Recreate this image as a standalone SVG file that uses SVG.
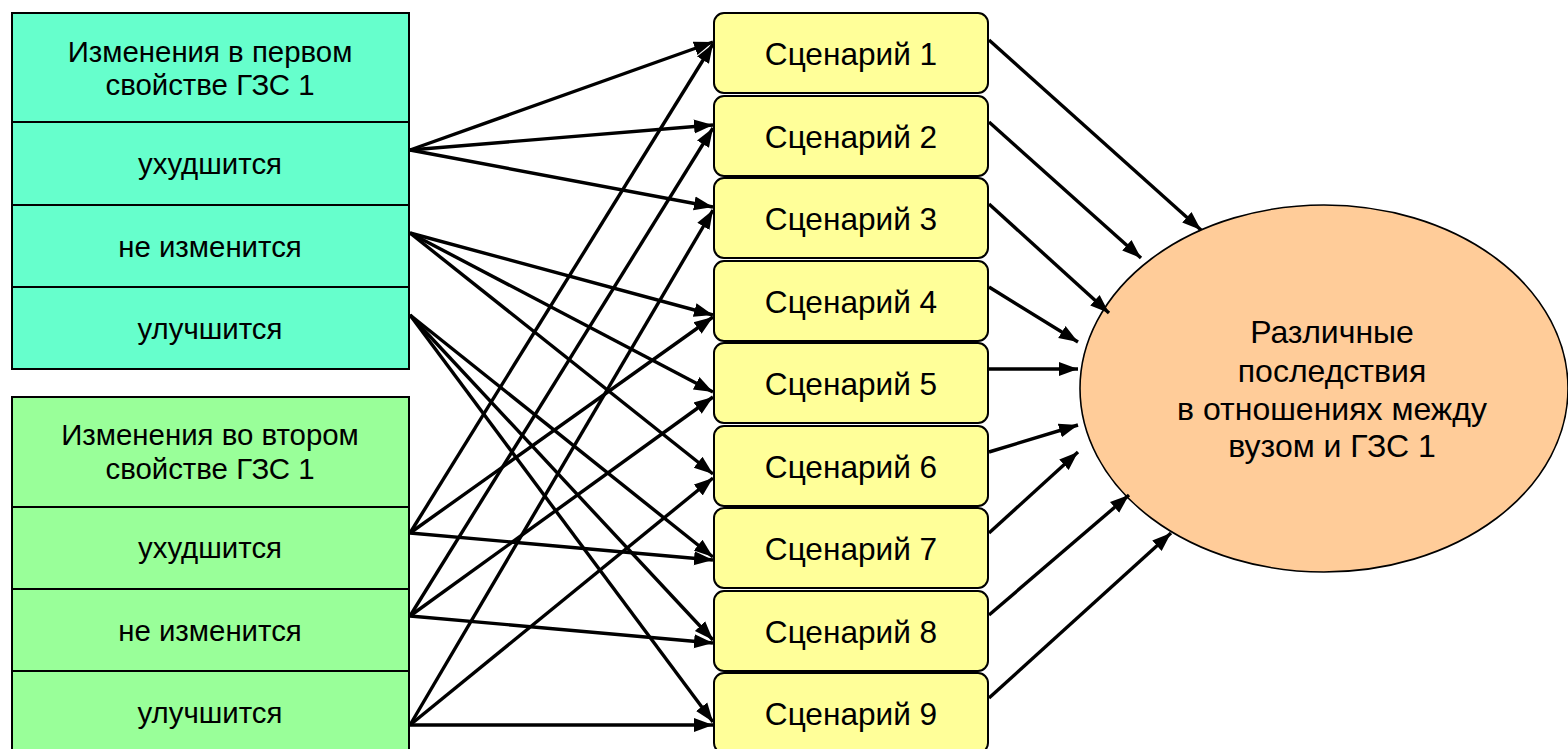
<svg xmlns="http://www.w3.org/2000/svg" width="1568" height="749" viewBox="0 0 1568 749">
<style>
text{font-family:"Liberation Sans",Arial,sans-serif;font-size:31.6px;fill:#000;text-anchor:middle}
.lt{font-size:29.4px}
.et{font-size:32px}
.t1{fill:#66FFCC;stroke:#000;stroke-width:2}
.t2{fill:#99FF99;stroke:#000;stroke-width:2}
.sc{fill:#FFFF99;stroke:#000;stroke-width:2}
.el{fill:#FFCC99;stroke:#000;stroke-width:1.6}
.c line{stroke:#000;stroke-width:3.4;marker-end:url(#ah)}
</style>
<defs>
<marker id="ah" markerUnits="userSpaceOnUse" markerWidth="20" markerHeight="16" refX="19" refY="8" orient="auto">
<path d="M0,1 L19,8 L0,15 z" fill="#000"/>
</marker>
</defs>
<rect width="1568" height="749" fill="#fff"/>

<g id="prop1" class="lt">
<rect class="t1" x="12" y="13" width="397" height="109"/>
<rect class="t1" x="12" y="122" width="397" height="83"/>
<rect class="t1" x="12" y="205" width="397" height="82"/>
<rect class="t1" x="12" y="287" width="397" height="82"/>
<text class="lt" x="210" y="62">Изменения в первом</text>
<text class="lt" x="210" y="95">свойстве ГЗС 1</text>
<text class="lt" x="210" y="174">ухудшится</text>
<text class="lt" x="210" y="257">не изменится</text>
<text class="lt" x="210" y="339">улучшится</text>
</g>

<g id="prop2">
<rect class="t2" x="12" y="397" width="397" height="110"/>
<rect class="t2" x="12" y="507" width="397" height="82"/>
<rect class="t2" x="12" y="589" width="397" height="82"/>
<rect class="t2" x="12" y="671" width="397" height="90"/>
<text class="lt" x="210" y="445">Изменения во втором</text>
<text class="lt" x="210" y="479">свойстве ГЗС 1</text>
<text class="lt" x="210" y="558">ухудшится</text>
<text class="lt" x="210" y="641">не изменится</text>
<text class="lt" x="210" y="723">улучшится</text>
</g>

<g id="s1"><rect class="sc" x="714" y="13" width="274" height="80" rx="10"/><text x="851" y="65">Сценарий 1</text></g>
<g id="s2"><rect class="sc" x="714" y="96" width="274" height="80" rx="10"/><text x="851" y="148">Сценарий 2</text></g>
<g id="s3"><rect class="sc" x="714" y="178" width="274" height="80" rx="10"/><text x="851" y="230">Сценарий 3</text></g>
<g id="s4"><rect class="sc" x="714" y="261" width="274" height="80" rx="10"/><text x="851" y="313">Сценарий 4</text></g>
<g id="s5"><rect class="sc" x="714" y="343" width="274" height="80" rx="10"/><text x="851" y="395">Сценарий 5</text></g>
<g id="s6"><rect class="sc" x="714" y="426" width="274" height="80" rx="10"/><text x="851" y="478">Сценарий 6</text></g>
<g id="s7"><rect class="sc" x="714" y="508" width="274" height="80" rx="10"/><text x="851" y="560">Сценарий 7</text></g>
<g id="s8"><rect class="sc" x="714" y="591" width="274" height="80" rx="10"/><text x="851" y="643">Сценарий 8</text></g>
<g id="s9"><rect class="sc" x="714" y="673" width="274" height="80" rx="10"/><text x="851" y="725">Сценарий 9</text></g>

<g id="result">
<ellipse class="el" cx="1324" cy="388.5" rx="244" ry="183.5"/>
<text class="et" x="1332" y="343">Различные</text>
<text class="et" x="1332" y="382">последствия</text>
<text class="et" x="1332" y="420">в отношениях между</text>
<text class="et" x="1332" y="457">вузом и ГЗС 1</text>
</g>

<g id="connectors" class="c">
<line x1="410" y1="150" x2="713" y2="42"/>
<line x1="410" y1="150" x2="713" y2="125"/>
<line x1="410" y1="150" x2="713" y2="207"/>
<line x1="410" y1="233" x2="713" y2="315"/>
<line x1="410" y1="233" x2="713" y2="392"/>
<line x1="410" y1="233" x2="713" y2="474"/>
<line x1="410" y1="315" x2="713" y2="557"/>
<line x1="410" y1="315" x2="713" y2="640"/>
<line x1="410" y1="315" x2="713" y2="722"/>
<line x1="410" y1="533" x2="713" y2="44"/>
<line x1="410" y1="533" x2="713" y2="317"/>
<line x1="410" y1="533" x2="713" y2="560"/>
<line x1="410" y1="616" x2="713" y2="128"/>
<line x1="410" y1="616" x2="713" y2="397"/>
<line x1="410" y1="616" x2="713" y2="643"/>
<line x1="410" y1="725" x2="713" y2="210"/>
<line x1="410" y1="725" x2="713" y2="478"/>
<line x1="410" y1="725" x2="713" y2="725"/>
<line x1="989" y1="40" x2="1201" y2="230"/>
<line x1="989" y1="122" x2="1141" y2="258"/>
<line x1="989" y1="204" x2="1109" y2="313"/>
<line x1="989" y1="287" x2="1078" y2="342"/>
<line x1="989" y1="369" x2="1078" y2="369"/>
<line x1="989" y1="452" x2="1078" y2="425"/>
<line x1="989" y1="533" x2="1078" y2="452"/>
<line x1="989" y1="615" x2="1129" y2="495"/>
<line x1="989" y1="698" x2="1171" y2="533"/>
</g>
</svg>
